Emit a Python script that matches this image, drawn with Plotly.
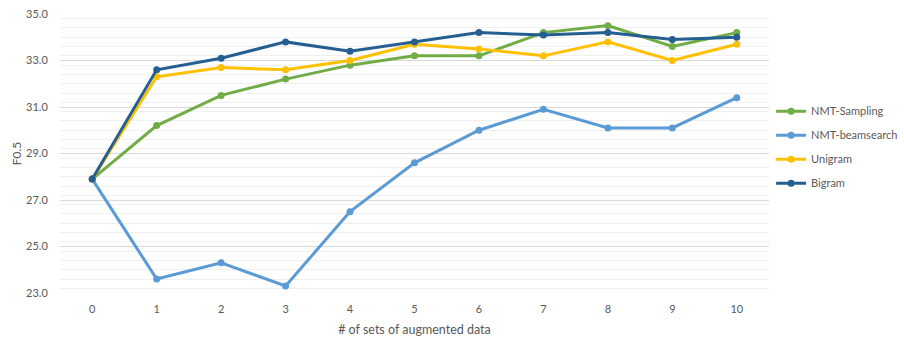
import plotly.graph_objects as go

# Number of augmented data sets (x categories)
x_sets = [0, 1, 2, 3, 4, 5, 6, 7, 8, 9, 10]
x_labels = [str(v) for v in x_sets]

# F0.5 scores per method
nmt_sampling = [27.9, 30.2, 31.5, 32.2, 32.8, 33.2, 33.2, 34.2, 34.5, 33.6, 34.2]
nmt_beamsearch = [27.9, 23.6, 24.3, 23.3, 26.5, 28.6, 30.0, 30.9, 30.1, 30.1, 31.4]
unigram = [27.9, 32.3, 32.7, 32.6, 33.0, 33.7, 33.5, 33.2, 33.8, 33.0, 33.7]
bigram = [27.9, 32.6, 33.1, 33.8, 33.4, 33.8, 34.2, 34.1, 34.2, 33.9, 34.0]

y_ticks = [23.0, 25.0, 27.0, 29.0, 31.0, 33.0, 35.0]

series = [
    ("NMT-Sampling", nmt_sampling, "#70AD47"),
    ("NMT-beamsearch", nmt_beamsearch, "#5B9BD5"),
    ("Unigram", unigram, "#FFC000"),
    ("Bigram", bigram, "#255E91"),
]

FONT = "Lato, 'Open Sans', sans-serif"
TEXT_COLOR = "#595959"

fig = go.Figure()
for i, (name, values, color) in enumerate(series):
    fig.add_trace(go.Scatter(
        x=x_sets, y=values, name=name, mode="lines+markers",
        line=dict(color=color, width=3),
        marker=dict(color=color, size=7),
        legendgroup=f"g{i}",
    ))

fig.update_layout(
    width=904, height=338,
    margin=dict(l=60, r=135, t=14, b=45, autoexpand=False),
    paper_bgcolor="white", plot_bgcolor="white",
    font=dict(family=FONT, size=11, color=TEXT_COLOR),
    showlegend=True,
    legend=dict(
        xref="container", yref="container",
        x=0.853, y=0.714, xanchor="left", yanchor="top",
        font=dict(family=FONT, size=11, color=TEXT_COLOR),
        itemwidth=30, tracegroupgap=5,
        bgcolor="rgba(0,0,0,0)",
    ),
)

fig.update_xaxes(
    tickmode="array", tickvals=x_sets, ticktext=x_labels,
    range=[-0.5, 10.5], showgrid=False, zeroline=False,
    showline=False, ticks="outside", ticklen=6, tickcolor="rgba(0,0,0,0)",
    tickfont=dict(family=FONT, size=11, color=TEXT_COLOR),
    title=dict(text="# of sets of augmented data", standoff=11,
               font=dict(family=FONT, size=12.5, color=TEXT_COLOR)),
)

fig.update_yaxes(
    range=[23.0, 35.0], tickvals=y_ticks, tickformat=".1f",
    showgrid=True, gridcolor="#D9D9D9", gridwidth=1,
    zeroline=False, showline=False,
    ticks="outside", ticklen=9, tickcolor="rgba(0,0,0,0)",
    minor=dict(dtick=0.4, showgrid=True, gridcolor="#F0F0F0", gridwidth=1),
    tickfont=dict(family=FONT, size=11, color=TEXT_COLOR),
    title=dict(text="F0.5", standoff=1,
               font=dict(family=FONT, size=12, color=TEXT_COLOR)),
)

fig.write_html("out.html")
